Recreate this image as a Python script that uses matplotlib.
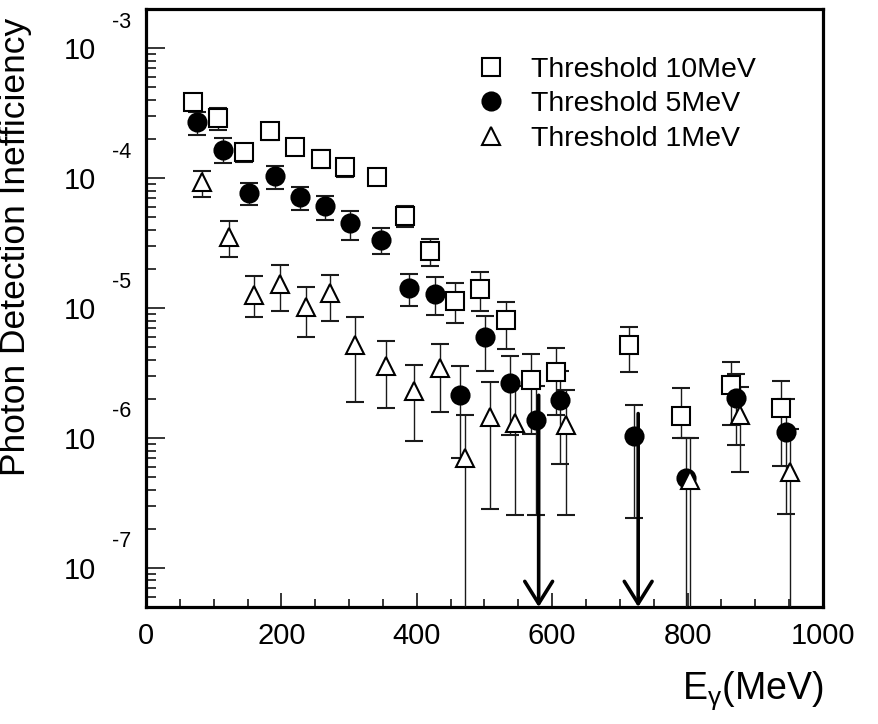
import numpy as np
import matplotlib
matplotlib.use('Agg')
import matplotlib.pyplot as plt
from matplotlib.ticker import LogLocator, MultipleLocator, FuncFormatter, NullFormatter

plt.rcParams['font.family'] = ['Liberation Sans', 'DejaVu Sans']
plt.rcParams['mathtext.fontset'] = 'custom'
plt.rcParams['mathtext.rm'] = 'Liberation Sans'
plt.rcParams['mathtext.it'] = 'Liberation Sans:italic'

# ---------------- data ----------------
labels = ['Threshold 10MeV', 'Threshold 5MeV', 'Threshold 1MeV']

e10 = [69, 106, 145, 183, 220, 258, 294, 341, 383, 420, 457, 493, 532, 569, 606, 714, 790, 864, 938]
v10 = [3.82e-4, 2.90e-4, 1.58e-4, 2.31e-4, 1.72e-4, 1.41e-4, 1.21e-4, 1.01e-4, 5.15e-5, 2.76e-5,
       1.14e-5, 1.40e-5, 8.03e-6, 2.77e-6, 3.20e-6, 5.15e-6, 1.47e-6, 2.54e-6, 1.70e-6]
lo10 = [3.55e-4, 2.35e-4, 1.33e-4, 1.95e-4, 1.50e-4, 1.19e-4, 1.01e-4, 0.90e-4, 4.17e-5, 2.09e-5,
        7.64e-6, 9.53e-6, 4.86e-6, 1.07e-6, 1.49e-6, 3.22e-6, 1.00e-6, 1.25e-6, 6.12e-7]
hi10 = [4.10e-4, 3.45e-4, 1.83e-4, 2.67e-4, 1.94e-4, 1.63e-4, 1.41e-4, 1.12e-4, 6.13e-5, 3.41e-5,
        1.55e-5, 1.88e-5, 1.11e-5, 4.45e-6, 4.95e-6, 7.10e-6, 2.43e-6, 3.82e-6, 2.76e-6]

e5 = [76, 113, 152, 190, 227, 264, 302, 347, 389, 427, 464, 501, 538, 576, 612, 721, 797, 871, 945]
v5 = [2.70e-4, 1.63e-4, 7.67e-5, 1.03e-4, 7.21e-5, 6.05e-5, 4.51e-5, 3.35e-5, 1.43e-5, 1.29e-5,
      2.13e-6, 5.98e-6, 2.65e-6, 1.38e-6, 1.95e-6, 1.03e-6, 4.92e-7, 2.02e-6, 1.12e-6]
lo5 = [2.15e-4, 1.30e-4, 6.24e-5, 8.22e-5, 5.70e-5, 4.78e-5, 3.35e-5, 2.60e-5, 1.04e-5, 8.83e-6,
       7.0e-7, 3.30e-6, 1.06e-6, 2.57e-7, 6.31e-7, 2.43e-7, 0.0, 8.87e-7, 2.62e-7]
hi5 = [3.25e-4, 2.03e-4, 9.16e-5, 1.24e-4, 8.61e-5, 7.34e-5, 5.60e-5, 4.12e-5, 1.84e-5, 1.72e-5,
       3.56e-6, 8.61e-6, 4.30e-6, 2.49e-6, 3.30e-6, 1.80e-6, 1.00e-6, 3.10e-6, 2.00e-6]

e1 = [83, 122, 160, 198, 236, 272, 309, 355, 396, 434, 471, 508, 545, 620, 804, 877, 951]
v1 = [9.25e-5, 3.52e-5, 1.26e-5, 1.53e-5, 1.02e-5, 1.30e-5, 5.22e-6, 3.56e-6, 2.28e-6, 3.45e-6,
      7.0e-7, 1.45e-6, 1.30e-6, 1.26e-6, 4.77e-7, 1.51e-6, 5.51e-7]
lo1 = [7.21e-5, 2.49e-5, 8.53e-6, 9.42e-6, 5.94e-6, 7.89e-6, 1.88e-6, 1.70e-6, 9.53e-7, 1.57e-6,
       0.0, 2.86e-7, 2.57e-7, 2.57e-7, 0.0, 5.47e-7, 0.0]
hi1 = [1.14e-4, 4.64e-5, 1.75e-5, 2.15e-5, 1.45e-5, 1.80e-5, 8.47e-6, 5.53e-6, 3.65e-6, 5.28e-6,
       1.49e-6, 2.70e-6, 2.49e-6, 2.32e-6, 1.00e-6, 2.45e-6, 1.18e-6]

# upper-limit arrows
arrow_x = [580, 727]
arrow_top = [2.13e-6, 1.54e-6]

xlim = (0, 1000)
ylim = (5e-8, 2e-3)
decades = [-3, -4, -5, -6, -7]

# ---------------- figure ----------------
fig = plt.figure(figsize=(8.79, 7.24), dpi=100)
ax = fig.add_axes([146/879, 1 - 607/724, 677/879, 598/724])
ax.set_yscale('log')
ax.set_xlim(*xlim)
ax.set_ylim(*ylim)

def draw(x, v, lo, hi, marker, mfc, ms, label):
    x = np.asarray(x, float); v = np.asarray(v, float)
    lo = np.asarray(lo, float); hi = np.asarray(hi, float)
    c = ax.errorbar(x, v, yerr=[v - lo, hi - v], fmt=marker, ms=ms, mfc=mfc, mec='black',
                    mew=1.5, ecolor='#1a1a1a', elinewidth=1.0, capsize=6.5, capthick=1.0,
                    label=label, zorder=3)
    return c[0]

h10 = draw(e10, v10, lo10, hi10, 's', 'white', 13.0, labels[0])
h5 = draw(e5, v5, lo5, hi5, 'o', 'black', 13.0, labels[1])
h1 = draw(e1, v1, lo1, hi1, '^', 'white', 13.5, labels[2])

for x, t in zip(arrow_x, arrow_top):
    ax.annotate('', xy=(x, ylim[0]), xytext=(x, t),
                arrowprops=dict(arrowstyle='->,head_length=0.8,head_width=0.5',
                                lw=2.6, color='black', shrinkA=0, shrinkB=0,
                                mutation_scale=20), zorder=4)

# axes styling
for s in ax.spines.values():
    s.set_linewidth(2.3)

ax.xaxis.set_major_locator(MultipleLocator(200))
ax.xaxis.set_minor_locator(MultipleLocator(50))
ax.yaxis.set_major_locator(LogLocator(base=10, numticks=20))
ax.yaxis.set_minor_locator(LogLocator(base=10, subs=np.arange(2, 10), numticks=20))
ax.yaxis.set_minor_formatter(NullFormatter())
ax.yaxis.set_major_formatter(FuncFormatter(lambda v, p: '10'))

ax.tick_params(axis='both', which='both', direction='in', top=False, right=False, width=1.1)
ax.tick_params(axis='x', which='major', length=10, labelsize=21, pad=11)
ax.tick_params(axis='x', which='minor', length=5.5)
ax.tick_params(axis='y', which='major', length=14, labelsize=21, pad=36)
ax.tick_params(axis='y', which='minor', length=7)

for d in decades:
    ax.annotate(str(d), xy=(0, 10.0 ** d), xycoords=('axes fraction', 'data'),
                xytext=(-24, 26), textcoords='offset pixels', ha='center', va='center',
                fontsize=15.5)

ax.set_ylabel('Photon Detection Inefficiency', fontsize=25.5, loc='top')
ax.yaxis.set_label_coords(-0.168, 0.985)
ax.set_xlabel(r'E$_{\mathrm{γ}}$(MeV)', fontsize=27, loc='right')
ax.xaxis.set_label_coords(1.0, -0.105)

ax.legend([h10, h5, h1], labels, loc='upper left', bbox_to_anchor=(0.489, 0.92),
          frameon=False, borderpad=0, borderaxespad=0, handlelength=1.0,
          handletextpad=0.9, labelspacing=0.3, fontsize=20.5)

fig.savefig('out.png', dpi=100)
